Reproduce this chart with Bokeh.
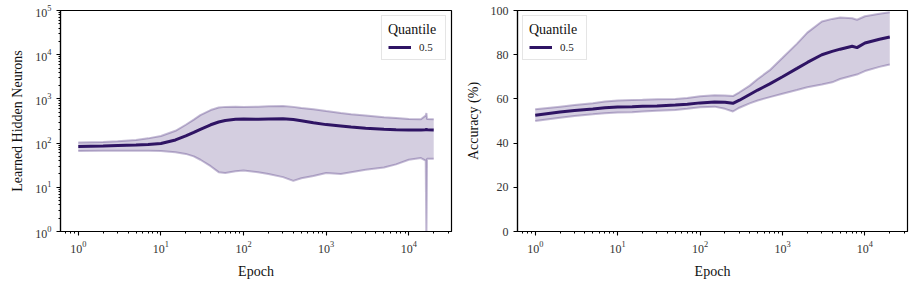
from bokeh.plotting import figure
from bokeh.layouts import row
from bokeh.models import FixedTicker, Range1d, Legend
from bokeh.embed import file_html
from bokeh.resources import INLINE
import math

# ---- Left panel: learned hidden neurons (log-log) ----
epochs_n = [1, 2, 3, 5, 7, 10, 15, 20, 25, 30, 40, 50, 60, 80, 100, 150, 200, 300,
            400, 500, 700, 1000, 1500, 2000, 3000, 5000, 7000, 10000, 14000, 16000,
            16300, 16600, 20000]
neurons_med = [84, 86, 88, 90, 93, 98, 118, 145, 175, 205, 260, 300, 325, 345, 350, 348,
               352, 355, 340, 320, 290, 262, 245, 232, 218, 205, 200, 198, 197, 200, 205,
               200, 198]
neurons_hi = [103, 106, 110, 118, 128, 145, 190, 260, 340, 430, 560, 640, 660, 665, 660,
              665, 680, 690, 660, 620, 580, 530, 480, 450, 420, 385, 370, 350, 345, 420,
              480, 350, 345]
neurons_lo = [66, 67, 67, 67, 67, 66, 62, 57, 50, 42, 30, 22, 21, 23, 24, 22, 20, 17, 14,
              16, 18, 21, 20, 22, 25, 28, 33, 42, 46, 40, 0.5, 44, 44]

# ---- Right panel: accuracy ----
epochs_a = [1, 2, 3, 5, 7, 10, 15, 20, 30, 50, 70, 100, 150, 200, 250, 300, 400, 500, 700,
            1000, 1500, 2000, 3000, 4000, 5000, 7000, 8000, 10000, 15000, 20000]
acc_med = [52.6, 54.1, 54.8, 55.4, 56.0, 56.3, 56.5, 56.7, 56.8, 57.2, 57.6, 58.2, 58.6,
           58.5, 58.0, 59.4, 62.0, 64.0, 66.8, 70.0, 73.8, 76.5, 80.0, 81.5, 82.5, 83.8,
           83.2, 85.3, 87.0, 88.0]
acc_hi = [55.3, 56.5, 57.2, 58.0, 58.8, 59.3, 59.5, 59.6, 59.8, 60.0, 60.4, 61.2, 61.6,
          61.5, 61.3, 63.0, 66.0, 69.0, 73.0, 78.6, 85.0, 90.0, 95.0, 96.2, 96.8, 96.5,
          95.8, 97.4, 98.5, 99.2]
acc_lo = [50.0, 51.5, 52.3, 53.0, 53.5, 53.8, 54.0, 54.3, 54.6, 55.0, 55.5, 56.2, 56.5,
          55.5, 54.3, 56.0, 58.0, 59.3, 60.8, 62.3, 64.0, 65.3, 66.5, 67.5, 69.0, 70.5,
          71.0, 72.6, 74.5, 75.6]

log_major = [1, 10, 100, 1000, 10000, 100000]
acc_ticks = [0, 20, 40, 60, 80, 100]

legend_title = "Quantile"
legend_label = "0.5"

DARK = "#2f1464"
FILL = "#3b1f73"
FONT = "Liberation Serif"

lx0 = 10 ** (math.log10(1) - 0.05 * math.log10(20000))
lx1 = 10 ** (math.log10(20000) + 0.05 * math.log10(20000))


def log_ticker():
    majors = list(log_major)
    minors = [m * k for m in [0.1] + majors for k in range(2, 10)]
    return FixedTicker(ticks=majors, minor_ticks=minors)


def style(p):
    p.outline_line_color = "black"
    p.outline_line_width = 1.2
    p.outline_line_alpha = 1
    p.xgrid.visible = False
    p.ygrid.visible = False
    for ax in (p.xaxis[0], p.yaxis[0]):
        ax.axis_line_width = 1.2
        ax.axis_line_color = "black"
        ax.major_tick_in = 0
        ax.major_tick_out = 4
        ax.minor_tick_in = 0
        ax.minor_tick_out = 2
        ax.major_tick_line_width = 1.1
        ax.minor_tick_line_width = 1
        ax.minor_tick_line_color = "black"
        ax.major_label_text_font = FONT
        ax.major_label_text_font_size = "12px"
        ax.major_label_text_color = "#333333"
        ax.axis_label_text_font = FONT
        ax.axis_label_text_font_size = "14px"
        ax.axis_label_text_font_style = "normal"
        ax.axis_label_text_color = "#111111"
        ax.major_label_standoff = 5
    p.xaxis.axis_label = "Epoch"
    p.xaxis.axis_label_standoff = 8
    p.yaxis.axis_label_standoff = 7
    p.xaxis.ticker = log_ticker()


def add_band(p, xs, lo, hi, med):
    p.varea(x=xs, y1=lo, y2=hi, fill_color=FILL, fill_alpha=0.22)
    p.line(xs, hi, line_color=FILL, line_alpha=0.3, line_width=2)
    p.line(xs, lo, line_color=FILL, line_alpha=0.3, line_width=2)
    r = p.line(xs, med, line_color=DARK, line_width=3)
    return r


def add_legend(p, r, loc):
    leg = Legend(items=[(legend_label, [r])], location=loc)
    leg.title = legend_title
    leg.title_text_font = FONT
    leg.title_text_font_size = "14px"
    leg.title_text_font_style = "normal"
    leg.title_text_color = "#111111"
    leg.title_standoff = 3
    leg.label_text_font = FONT
    leg.label_text_font_size = "11px"
    leg.label_text_color = "#222222"
    leg.glyph_width = 23
    leg.glyph_height = 12
    leg.label_height = 12
    leg.label_standoff = 8
    leg.padding = 6
    leg.margin = 5
    leg.spacing = 0
    leg.border_line_color = "#cccccc"
    leg.border_line_width = 1
    leg.background_fill_alpha = 0.85
    p.add_layout(leg)


p1 = figure(x_axis_type="log", y_axis_type="log", frame_width=391, frame_height=221,
            min_border_left=60, min_border_right=5, min_border_top=10, min_border_bottom=42,
            toolbar_location=None, output_backend="svg",
            x_range=Range1d(lx0, lx1), y_range=Range1d(1, 1e5))
style(p1)
p1.yaxis.axis_label = "Learned Hidden Neurons"
p1.yaxis.ticker = log_ticker()
r1 = add_band(p1, epochs_n, neurons_lo, neurons_hi, neurons_med)
add_legend(p1, r1, "top_right")

p2 = figure(x_axis_type="log", frame_width=390, frame_height=221,
            min_border_left=61, min_border_right=4, min_border_top=10, min_border_bottom=42,
            toolbar_location=None, output_backend="svg",
            x_range=Range1d(lx0, lx1), y_range=Range1d(0, 100))
style(p2)
p2.yaxis.axis_label = "Accuracy (%)"
p2.yaxis.ticker = FixedTicker(ticks=acc_ticks)
r2 = add_band(p2, epochs_a, acc_lo, acc_hi, acc_med)
add_legend(p2, r2, "top_left")

layout = row(p1, p2)
open("out.html", "w").write(file_html(layout, INLINE))
